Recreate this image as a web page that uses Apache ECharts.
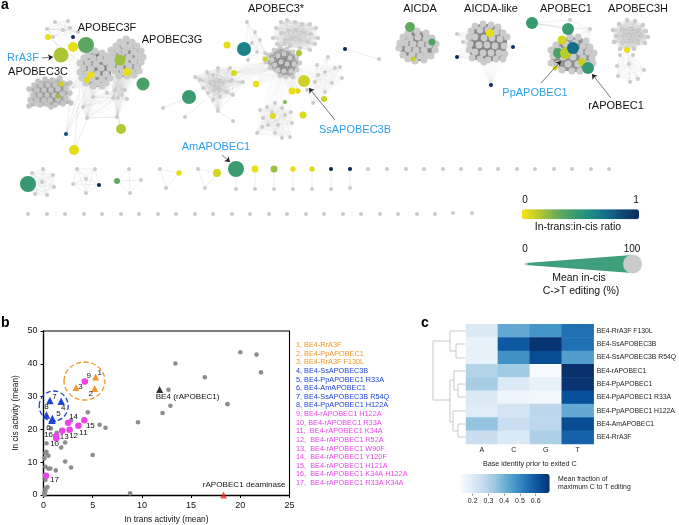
<!DOCTYPE html>
<html><head><meta charset="utf-8">
<style>html,body{margin:0;padding:0;background:#fff}#c{width:679px;height:525px}</style>
<script src="https://cdn.jsdelivr.net/npm/echarts@6/dist/echarts.min.js"></script>
</head><body><div id="c"></div>
<script>
// ---------- panel a: network nodes (page units) ----------
const a3g=[[126,39],[120,42],[132,42],[116,46],[124,45],[130,47],[137,46],[111,50],[118,50],[125,51],[134,52],[141,51],[113,55],[121,56],[129,57],[138,56],[143,57],[110,59],[116,61],[125,62],[134,61],[141,62],[112,65],[120,67],[129,66],[137,67],[139,71],[115,71],[123,72],[132,72],[119,76],[127,76],[134,75]];
const a3f=[[95,51],[102,53],[88,55],[107,56],[84,58],[93,58],[100,59],[80,63],[88,63],[106,62],[96,64],[83,68],[91,69],[101,68],[110,68],[80,72],[87,74],[97,74],[106,74],[82,78],[92,79],[102,79],[110,78],[86,83],[97,83],[106,83],[93,86],[102,86]];
const a3c=[[38,81],[45,79],[52,80],[60,78],[34,85],[41,85],[48,85],[55,85],[63,83],[70,83],[29,89],[37,90],[44,90],[51,90],[58,89],[66,88],[33,95],[40,95],[47,95],[54,95],[62,94],[70,93],[30,100],[37,100],[44,100],[50,100],[58,99],[66,98],[29,106],[40,105],[47,104],[55,105],[63,104],[71,103],[51,107]];
const a3top=[[55,22],[68,21],[47,29],[63,30],[70,28],[53,37],[78,32]];
const a3low=[[115,90],[113,98],[118,98],[122,95],[125,90],[127,99],[107,93],[93,97],[83,107],[87,118],[117,117]];
const starA=[[195,77],[200,80],[207,72],[213,75],[218,68],[230,68],[232,80],[243,82],[210,83],[217,87],[223,83],[208,93],[213,100],[218,111],[233,95],[227,92],[220,97],[203,88],[215,82],[220,80],[219,90],[214,90]];
const centerA=[[268,55],[274,50],[280,47],[287,49],[293,52],[272,60],[278,56],[284,54],[290,58],[297,57],[266,62],[275,65],[281,62],[287,64],[294,64],[300,63],[270,68],[278,70],[284,71],[291,71],[297,70],[286,77],[293,77],[280,76]];
const upperA=[[276,28],[281,22],[287,20],[295,22],[302,24],[310,24],[316,28],[273,38],[281,33],[288,30],[296,30],[304,32],[311,34],[318,38],[277,44],[285,40],[292,38],[300,40],[308,42],[315,44],[290,46],[300,48],[310,50],[284,44]];
const bottomA=[[257,133],[263,118],[260,110],[267,107],[275,103],[282,108],[285,115],[292,123],[291,112],[278,125],[268,125],[275,133],[282,138],[290,137],[262,127],[272,112]];
const rightA=[[328,57],[340,67],[342,78],[332,83],[325,72],[317,65],[315,82],[325,92],[313,103],[307,90],[335,68],[318,75]];
const topLeftA=[[247,22],[255,32],[260,40],[252,43],[257,52],[248,60],[265,53]];
const aicda=[[417,31],[408,33],[426,33],[403,37],[432,38],[400,43],[436,44],[399,48],[435,50],[403,55],[431,56],[408,59],[415,61],[424,60],[410,38],[418,37],[426,39],[405,43],[413,44],[421,44],[429,45],[408,49],[416,50],[424,50],[412,55],[420,56],[426,55]];
const aicdaLike=[[483,24],[475,26],[491,25],[498,27],[471,31],[480,30],[488,30],[496,32],[503,33],[469,37],[475,37],[484,38],[492,38],[500,39],[507,37],[470,44],[479,45],[487,45],[495,46],[504,46],[469,50],[475,52],[483,53],[491,53],[499,53],[505,54],[472,58],[480,59],[488,60],[496,59],[503,59],[484,62]];
const apobec1=[[570,37],[578,37],[562,40],[586,41],[556,45],[566,44],[575,43],[583,46],[590,47],[551,50],[559,50],[570,50],[580,52],[588,52],[594,53],[553,56],[563,57],[573,57],[583,58],[592,58],[551,63],[558,64],[568,64],[578,64],[587,64],[593,63],[562,70],[572,71],[580,71],[589,70]];
const apobec1Top=[[570,20],[590,29],[568,29],[532,23]];
const a3hTop=[[627,20],[635,21],[619,24],[643,25],[613,30],[622,29],[631,28],[639,30],[646,31],[616,36],[625,35],[633,35],[642,36],[648,37],[614,42],[622,43],[630,42],[638,43],[645,43],[620,49],[634,49],[627,50]];
const a3hLow=[[627,50],[620,55],[633,55],[617,66],[629,64],[644,70],[618,76],[630,82],[638,79]];
const miniOne=[[43,169],[32,173],[53,175],[42,182],[54,187],[47,195],[35,194],[28,184]];
const miniTwo=[[77,169],[95,169],[86,179],[73,184],[99,185],[86,193]];
const miniThree=[[129,169],[117,181],[141,180],[130,193]];
const miniFour=[[160,169],[179,173],[166,188]];
const miniFive=[[198,169],[217,173],[205,188]];
const pairA=[[236,169],[236,189]],pairB=[[255,169],[255,189]],pairC=[[274,169],[274,189]],pairD=[[293,169],[293,189]],pairE=[[312,169],[312,189]],pairF=[[331,169],[331,189]],pairG=[[350,169],[350,188]],pairH=[[345,49],[379,59]];
const looseNodes=[[163,108],[185,117],[233,121],[457,34],[463,42],[368,169],[387,169],[406,169],[424,169],[443,169],[461,169],[480,169],[498,169],[517,169],[535,169],[554,169],[572,169],[591,169],[609,169],[453,213],[472,213],[28,214],[47,214],[65,214],[84,214],[102,214],[121,214],[139,214],[158,214],[176,214],[195,214],[213,214],[232,214],[250,214],[269,214],[287,214],[306,214],[324,214],[343,214],[361,214],[380,214],[398,214],[417,214],[435,214]];
// hub node -> every member of the named cluster
const hubLinks=[[115,90,'a3g'],[113,98,'a3g'],[118,98,'a3g'],[122,95,'a3g'],[125,90,'a3f'],[107,93,'a3f'],[93,97,'a3f'],[83,107,'a3f'],[117,117,'a3g'],[87,118,'a3f'],[61,55,'a3f'],[73,47,'a3top'],[86,45,'a3f'],[72,88,'a3f'],[60,90,'a3f'],
 [280,60,'upperA'],[292,64,'upperA'],[285,70,'bottomA'],[276,65,'bottomA'],[297,70,'rightA'],[290,71,'rightA'],[268,62,'starA'],[270,68,'starA'],[268,55,'topLeftA'],[304,81,'rightA'],[304,81,'centerA'],[265,59,'topLeftA'],[244,49,'topLeftA'],[234,73,'starA'],[234,73,'centerA'],[256,84,'centerA'],[292,91,'centerA'],[298,91,'centerA'],[285,102,'bottomA'],[273,116,'bottomA'],[324,99,'rightA'],
 [457,57,'aicdaLike'],[513,47,'aicdaLike'],[491,85,'aicdaLike'],[457,34,'aicdaLike'],[463,42,'aicdaLike'],[590,29,'apobec1'],[568,29,'apobec1'],[555,68,'apobec1']];
const looseEdges=[[87,118,117,117],[66,134,70,100],[66,134,87,88],[74,150,80,88],[74,150,88,118],[121,129,117,117],[121,129,112,85],[143,84,127,72],[48,37,78,60],[163,108,189,97],[185,117,205,100],[233,121,218,111],[189,97,200,88],[532,23,568,29],[49,29,61,55],[83,107,87,118],[83,107,62,140],[66,134,78,95]];
// coloured nodes: x, y, mean in-cis radius, in-trans:in-cis ratio
const colorNodes=[[48,37,3,.03],[73,37,2,1],[86,45,8,.35],[73,47,5,.03],[61,55,7.5,.17],[120,60,5.5,.2],[127,72,4,.03],[143,84,6.5,.4],[91,75,3.5,.03],[87,80,3,.05],[61,84,2.5,.1],[58,96,2.5,.2],[121,129,5,.15],[66,134,2,.85],[74,150,5,.04],
 [189,97,7,.45],[227,45,3.5,.04],[244,49,7,.62],[265,59,2.5,.1],[234,73,3,.07],[256,84,3.2,.03],[299,53,3,.17],[304,81,6,.1],[292,91,3.5,.03],[298,91,2.7,.05],[324,99,3,.1],[285,102,2,.25],[273,116,3,.06],[303,115,3.5,.06],[345,49,2,1],
 [410,27,5,.33],[432,42,3.5,.38],[413,59,2.5,.12],[490,33,4,.03],[457,57,2,1],[491,85,2,1],[513,47,2,.95],
 [532,23,6,.46],[568,29,6,.45],[562,40,4.5,.08],[558,53,5,.4],[555,68,2.5,.07],[566,53,6,.14],[573,48,6,.72],[582,62,4,.12],[588,68,6,.47],[627,50,3,.03],
 [28,184,8,.47],[99,185,2,1],[117,181,3,.33],[179,173,2.7,.04],[217,173,4,.08],[236,169,8,.45],[255,169,3.5,.03],[274,169,3.5,.2],[293,169,2.7,.04],[312,169,2.7,.05],[331,169,2,1],[350,169,2,1]];
const arrowSegments=[[42,58,53,57],[335,120,309,88],[222,155,230,162],[541,83,561,61],[611,98,592,74]];
// ---------- panel b ----------
const grayTrans=[13.4,12.7,12.9,12.1,9.6,4.5,5.7,6.3,5,2.8,2.2,1.8,2.2,2.8,1.25,.7,.5,.3,.3,.5,.1,.2,.2,.2,.4,.2,.1,.2,.1,8.8,.75,1.35,20,21.65,22.1,16.4,18.7];
const grayCis=[40.1,32.1,27.2,25,22.2,25.2,21.4,20.5,12.2,22.7,16,14.5,10.2,8.4,7.5,8.1,8,15.8,13.2,12,11.2,12.7,8.6,4.6,2.4,2,.5,1.2,0,.5,20.3,19,43.5,42.8,37.4,35.9,27.7];
const numberIds=['1','2','3','4','5','6','7','8','9','10','11','12','13','14','15','16','17'];
const numberedTrans=[5.3,5.2,3.3,1.8,.9,.85,.65,.3,4.2,1.3,3.55,2.65,1.9,2.5,4.15,1.3,.25];
const numberedCis=[36,32.5,32.8,28.6,23.3,22.8,28.8,24.4,34.6,17.3,21.1,19.9,19.6,22,22.8,18,5.9];
const numberOffsets=[[4,-4],[-4,5.5],[4.5,-1],[2,6.5],[6,-4.5],[-3.5,8],[4.5,-4],[0,-8],[4,-6],[-1.7,6],[5,7],[4,6],[2,6.5],[5.5,-6.5],[6,5.5],[-7.7,-.7],[8.5,4.5]];
const be4Point=[11.8,32.2];
const deaminasePoint=[18.3,0];
const legendEntries=['1, BE4-RrA3F','2, BE4-PpAPOBEC1','3, BE4-RrA3F F130L','4, BE4-SsAPOBEC3B','5, BE4-PpAPOBEC1 R33A','6, BE4-AmAPOBEC1','7, BE4-SsAPOBEC3B R54Q','8, BE4-PpAPOBEC1 H122A','9, BE4-rAPOBEC1 H122A','10, BE4-rAPOBEC1 R33A','11,  BE4-rAPOBEC1 K34A','12,  BE4-rAPOBEC1 R52A','13,  BE4-rAPOBEC1 W90F','14,  BE4-rAPOBEC1 Y120F','15,  BE4-rAPOBEC1 H121A','16,  BE4-rAPOBEC1 K34A H122A','17,  BE4-rAPOBEC1 R33A K34A'];
// ---------- panel c ----------
const baseLabels=['A','C','G','T'];
const editorLabels=['BE4-RrA3F F130L','BE4-SsAPOBEC3B','BE4-SsAPOBEC3B R54Q','BE4-rAPOBEC1','BE4-PpAPOBEC1','BE4-PpAPOBEC1 R33A','BE4-PpAPOBEC1 H122A','BE4-AmAPOBEC1','BE4-RrA3F'];
const heatValues=[[.2,.42,.47,.55],[.17,.6,.68,.55],[.17,.48,.63,.45],[.3,.33,.12,.69],[.32,.2,.17,.68],[.2,.15,.14,.62],[.19,.22,.28,.42],[.35,.25,.28,.63],[.25,.2,.31,.58]];
const colorbarTicks=[.2,.3,.4,.5,.6];
const dendrogram=[[[465,331],[450,331],[450,351],[456,351],[456,344],[465,344]],[[456,351],[456,358],[465,358]],[[433,341],[450,341]],[[433,341],[433,400],[450,400]],[[450,380],[450,422],[453,422]],[[450,380],[454,380],[454,371],[465,371]],[[454,380],[454,390],[458,390],[458,384],[465,384]],[[458,390],[458,397],[465,397]],[[453,411],[465,411]],[[453,411],[453,431],[458,431],[458,424],[465,424]],[[458,431],[458,437],[465,437]]];

const YELLOW_NAVY=['#f7e30f','#b9ca30','#6fae57','#3f9e6c','#1f8e84','#156f8a','#0f4a77','#0b2a5c'];
const BLUES=['#f7fbff','#deebf7','#c6dbef','#9ecae1','#6baed6','#4292c6','#2171b5','#08519c','#08306b'];
const FONT='"Liberation Sans",Arial,sans-serif';
const ORANGE='#f0962a',BLUE='#2144d6',MAGENTA='#ea44ea',CYAN='#2e9fe8';

const clusterByName={a3g,a3f,a3c,a3top,starA,centerA,upperA,bottomA,rightA,topLeftA,aicda,aicdaLike,apobec1};
const pageAxes={xAxisIndex:0,yAxisIndex:0};
const series=[];
function segs(list){return list.map(s=>({coords:[[s[0],s[1]],[s[2],s[3]]]}));}
function edgeSeries(data,color,width,z){
  series.push({type:'lines',coordinateSystem:'cartesian2d',...pageAxes,silent:true,z:z||1,symbol:'none',
    lineStyle:{color,width,opacity:1,curveness:0},data});
}
function allPairs(nodes){const out=[];for(let i=0;i<nodes.length;i++)for(let j=i+1;j<nodes.length;j++)out.push([nodes[i][0],nodes[i][1],nodes[j][0],nodes[j][1]]);return segs(out);}
function nodeSeries(nodes,size,color,z){
  series.push({type:'scatter',...pageAxes,silent:true,z:z||2,symbolSize:size,itemStyle:{color,opacity:1},data:nodes});
}
function cluster(nodes,edgeColor,edgeWidth,size,nodeColor){edgeSeries(allPairs(nodes),edgeColor,edgeWidth);nodeSeries(nodes,size,nodeColor||'#cbcbcb');}

// sparse links first so that they sit under everything
edgeSeries(segs(hubLinks.flatMap(h=>clusterByName[h[2]].map(n=>[h[0],h[1],n[0],n[1]]))),'rgba(180,180,180,0.13)',0.3,1);
edgeSeries(segs(looseEdges),'rgba(200,200,200,0.7)',0.5,1);
cluster(a3g,'#858585',1,7.2);
cluster(a3f,'#828282',1,7.2);
cluster(a3c,'rgba(140,140,140,0.42)',0.35,5.5,'#c4c4c4');
cluster(a3top,'rgba(190,190,190,0.6)',0.35,4);
cluster(a3low,'rgba(180,180,180,0.28)',0.35,4);
cluster(starA,'rgba(170,170,170,0.3)',0.35,3.8);
cluster(centerA,'rgba(125,125,125,0.5)',0.45,4.8);
cluster(upperA,'rgba(170,170,170,0.28)',0.35,4.2);
cluster(bottomA,'rgba(180,180,180,0.25)',0.35,3.8);
cluster(rightA,'rgba(180,180,180,0.25)',0.35,3.8);
cluster(topLeftA,'rgba(180,180,180,0.35)',0.35,3.8);
cluster(aicda,'#858585',1,7.2);
cluster(aicdaLike,'#858585',1,6.8);
cluster(apobec1,'#909090',1,7);
cluster(apobec1Top,'rgba(190,190,190,0.6)',0.35,4);
cluster(a3hTop,'rgba(165,165,165,0.38)',0.35,4.5);
cluster(a3hLow,'rgba(180,180,180,0.4)',0.35,4);
[miniOne,miniTwo,miniThree,miniFour,miniFive,pairA,pairB,pairC,pairD,pairE,pairF,pairG,pairH].forEach(n=>cluster(n,'rgba(200,200,200,0.6)',0.45,4));
nodeSeries(looseNodes,4,'#cbcbcb');

const colorSeriesIndex=series.length;
series.push({type:'scatter',...pageAxes,silent:true,z:3,data:colorNodes,encode:{x:0,y:1},symbolSize:v=>v[2]*2,itemStyle:{opacity:1}});
series.push({type:'lines',coordinateSystem:'cartesian2d',...pageAxes,silent:true,z:4,symbol:['none','arrow'],symbolSize:[0,5],
  lineStyle:{color:'#222',width:0.6,opacity:1},data:segs(arrowSegments)});
series.push({type:'lines',coordinateSystem:'cartesian2d',...pageAxes,polyline:true,silent:true,z:1,symbol:'none',
  lineStyle:{color:'#c9c9c9',width:1,opacity:1},data:dendrogram.map(p=>({coords:p}))});

// panel b
const bAxes={xAxisIndex:1,yAxisIndex:1};
function numberedSlice(from,to,symbol,size,color){
  const idx=numberIds.map((_,i)=>i).slice(from,to);
  series.push({type:'scatter',...bAxes,silent:true,z:5,symbol,symbolSize:size,itemStyle:{color,opacity:1},clip:false,
    data:idx.map(i=>({value:[numberedTrans[i],numberedCis[i]],
      label:{show:true,position:'inside',formatter:numberIds[i],offset:numberOffsets[i],color:'#111',fontSize:8,fontFamily:FONT}}))});
}
series.push({type:'scatter',...bAxes,silent:true,z:4,symbolSize:4.6,clip:false,itemStyle:{color:'#8d8d8d',opacity:1},data:grayTrans.map((x,i)=>[x,grayCis[i]])});
numberedSlice(8,17,'circle',6.5,MAGENTA);
numberedSlice(0,3,'triangle',7,ORANGE);
numberedSlice(3,8,'triangle',7.5,BLUE);
series.push({type:'scatter',...bAxes,silent:true,z:5,symbol:'triangle',symbolSize:7,itemStyle:{color:'#000'},data:[be4Point]});
series.push({type:'scatter',...bAxes,silent:true,z:5,symbol:'triangle',symbolSize:7,clip:false,itemStyle:{color:'#e8301c'},data:[deaminasePoint]});

// panel c
const heatSeriesIndex=series.length;
series.push({type:'heatmap',xAxisIndex:2,yAxisIndex:2,silent:true,z:2,
  data:heatValues.flatMap((row,r)=>row.map((v,c)=>[c,r,v]))});

function txt(text,x,y,size,color,align,extra){return {type:'text',silent:true,z:20,x,y,
  style:Object.assign({text,fill:color||'#111',fontSize:size,fontFamily:FONT,align:align||'center',verticalAlign:'middle'},extra||{})};}
const bigLabels=[['APOBEC3F',107,28],['APOBEC3G',172,40],['APOBEC3C',38,72],['APOBEC3*',276,9],['AICDA',420,9],['AICDA-like',491,9],['APOBEC1',566,9],['APOBEC3H',638,9],['rAPOBEC1',616,106]];
const blueLabels=[['RrA3F',23,58],['SsAPOBEC3B',355,130],['AmAPOBEC1',216,147],['PpAPOBEC1',535,93]];
const graphics=[
  ...bigLabels.map(l=>txt(l[0],l[1],l[2],11,'#111')),
  ...blueLabels.map(l=>txt(l[0],l[1],l[2],11,CYAN)),
  txt('a',1,5,14,'#000','left',{fontWeight:'bold'}),
  txt('b',1,323,14,'#000','left',{fontWeight:'bold'}),
  txt('c',421,323,14,'#000','left',{fontWeight:'bold'}),
  txt('0',525,200,10,'#111'),txt('1',636,200,10,'#111'),
  txt('In-trans:in-cis ratio',578,227,10.5,'#111'),
  txt('0',525,249,10,'#111'),txt('100',632,249,10,'#111'),
  txt('Mean in-cis',579,278,10.5,'#111'),txt('C->T editing (%)',581,291,10.5,'#111'),
  {type:'polygon',silent:true,z:19,shape:{points:[[526,263],[632,255],[632,273],[526,265]]},style:{fill:'#3f9e7c'}},
  {type:'circle',silent:true,z:20,shape:{cx:632.5,cy:264,r:9.5},style:{fill:'#cbcbcb'}},
  {type:'circle',silent:true,z:20,shape:{cx:526,cy:264,r:1.6},style:{fill:'#cbcbcb'}},
  {type:'ellipse',silent:true,z:6,shape:{cx:84.5,cy:381,rx:20.5,ry:19},style:{fill:'none',stroke:ORANGE,lineWidth:1.3,lineDash:[5,2.5]}},
  {type:'ellipse',silent:true,z:6,shape:{cx:53.7,cy:406,rx:14.5,ry:15},style:{fill:'none',stroke:BLUE,lineWidth:1.3,lineDash:[5,2.5]}},
  txt('BE4 (rAPOBEC1)',155.7,397,8.1,'#111','left'),
  txt('rAPOBEC1 deaminase',202.7,484.5,8.1,'#111','left'),
  ...legendEntries.map((t,i)=>txt(t,296,345+i*8.625,7.3,i<3?ORANGE:i<8?BLUE:MAGENTA,'left')),
  txt('Mean fraction of',558,479,6.9,'#222','left'),
  txt('maximum C to T editing',558,487.5,6.9,'#222','left')
];

const option={
  animation:false,backgroundColor:'#fff',textStyle:{fontFamily:FONT},
  grid:[
    {left:0,top:0,width:679,height:525,show:false},
    {left:43.5,top:331,width:246,height:164,show:false},
    {left:466,top:324.3,width:130.7,height:119.7,show:false},
    {left:457,top:492.7,width:94.4,height:1,show:false}
  ],
  xAxis:[
    {type:'value',gridIndex:0,min:0,max:679,show:false},
    {type:'value',gridIndex:1,min:0,max:25,interval:5,name:'In trans activity (mean)',nameLocation:'middle',nameGap:21,
      nameTextStyle:{fontSize:8.3,color:'#111'},
      axisLine:{onZero:false,lineStyle:{color:'#000',width:1.4}},axisTick:{length:3,lineStyle:{color:'#000',width:1}},
      axisLabel:{fontSize:9,color:'#111',margin:6},splitLine:{show:false}},
    {type:'category',gridIndex:2,data:baseLabels,axisLine:{show:false},axisTick:{show:false},
      axisLabel:{fontSize:7,color:'#222',margin:3},name:'Base identity prior to exited C',nameLocation:'middle',nameGap:17,
      nameTextStyle:{fontSize:7.2,color:'#222'},splitLine:{show:false}},
    {type:'value',gridIndex:3,min:0.1,max:0.7,axisLine:{show:false},
      axisTick:{customValues:colorbarTicks,length:2,lineStyle:{color:'#444',width:.6}},
      axisLabel:{customValues:colorbarTicks,fontSize:7,color:'#222',margin:4,formatter:v=>v.toFixed(1)},splitLine:{show:false}}
  ],
  yAxis:[
    {type:'value',gridIndex:0,min:0,max:525,inverse:true,show:false},
    {type:'value',gridIndex:1,min:0,max:50,interval:10,name:'In cis activity (mean)',nameLocation:'middle',nameGap:24,
      nameTextStyle:{fontSize:8.3,color:'#111'},
      axisLine:{onZero:false,lineStyle:{color:'#000',width:1.4}},axisTick:{length:3,lineStyle:{color:'#000',width:1}},
      axisLabel:{fontSize:9,color:'#111',margin:6},splitLine:{show:false}},
    {type:'category',gridIndex:2,data:editorLabels,inverse:true,position:'right',axisLine:{show:false},axisTick:{show:false},
      axisLabel:{fontSize:6.8,color:'#222',margin:3},splitLine:{show:false}},
    {type:'value',gridIndex:3,show:false,min:0,max:1}
  ],
  visualMap:[
    {type:'continuous',seriesIndex:heatSeriesIndex,dimension:2,min:.124,max:.689,orient:'horizontal',left:460.7,top:474,
      itemWidth:19,itemHeight:89,padding:0,calculable:false,showLabel:false,hoverLink:false,inRange:{color:BLUES},textStyle:{fontSize:0}},
    {type:'continuous',seriesIndex:colorSeriesIndex,dimension:3,min:0,max:1,orient:'horizontal',left:522,top:209.3,
      itemWidth:10,itemHeight:117,padding:0,calculable:false,showLabel:false,hoverLink:false,inRange:{color:YELLOW_NAVY},textStyle:{fontSize:0}}
  ],
  graphic:{elements:[
    ...graphics,
    {type:'polyline',silent:true,z:6,shape:{points:[[43.5,331],[289.5,331],[289.5,495]]},style:{fill:'none',stroke:'#000',lineWidth:1.1}}
  ]},
  series
};
echarts.init(document.getElementById('c'),null,{renderer:'canvas'}).setOption(option);
</script></body></html>
